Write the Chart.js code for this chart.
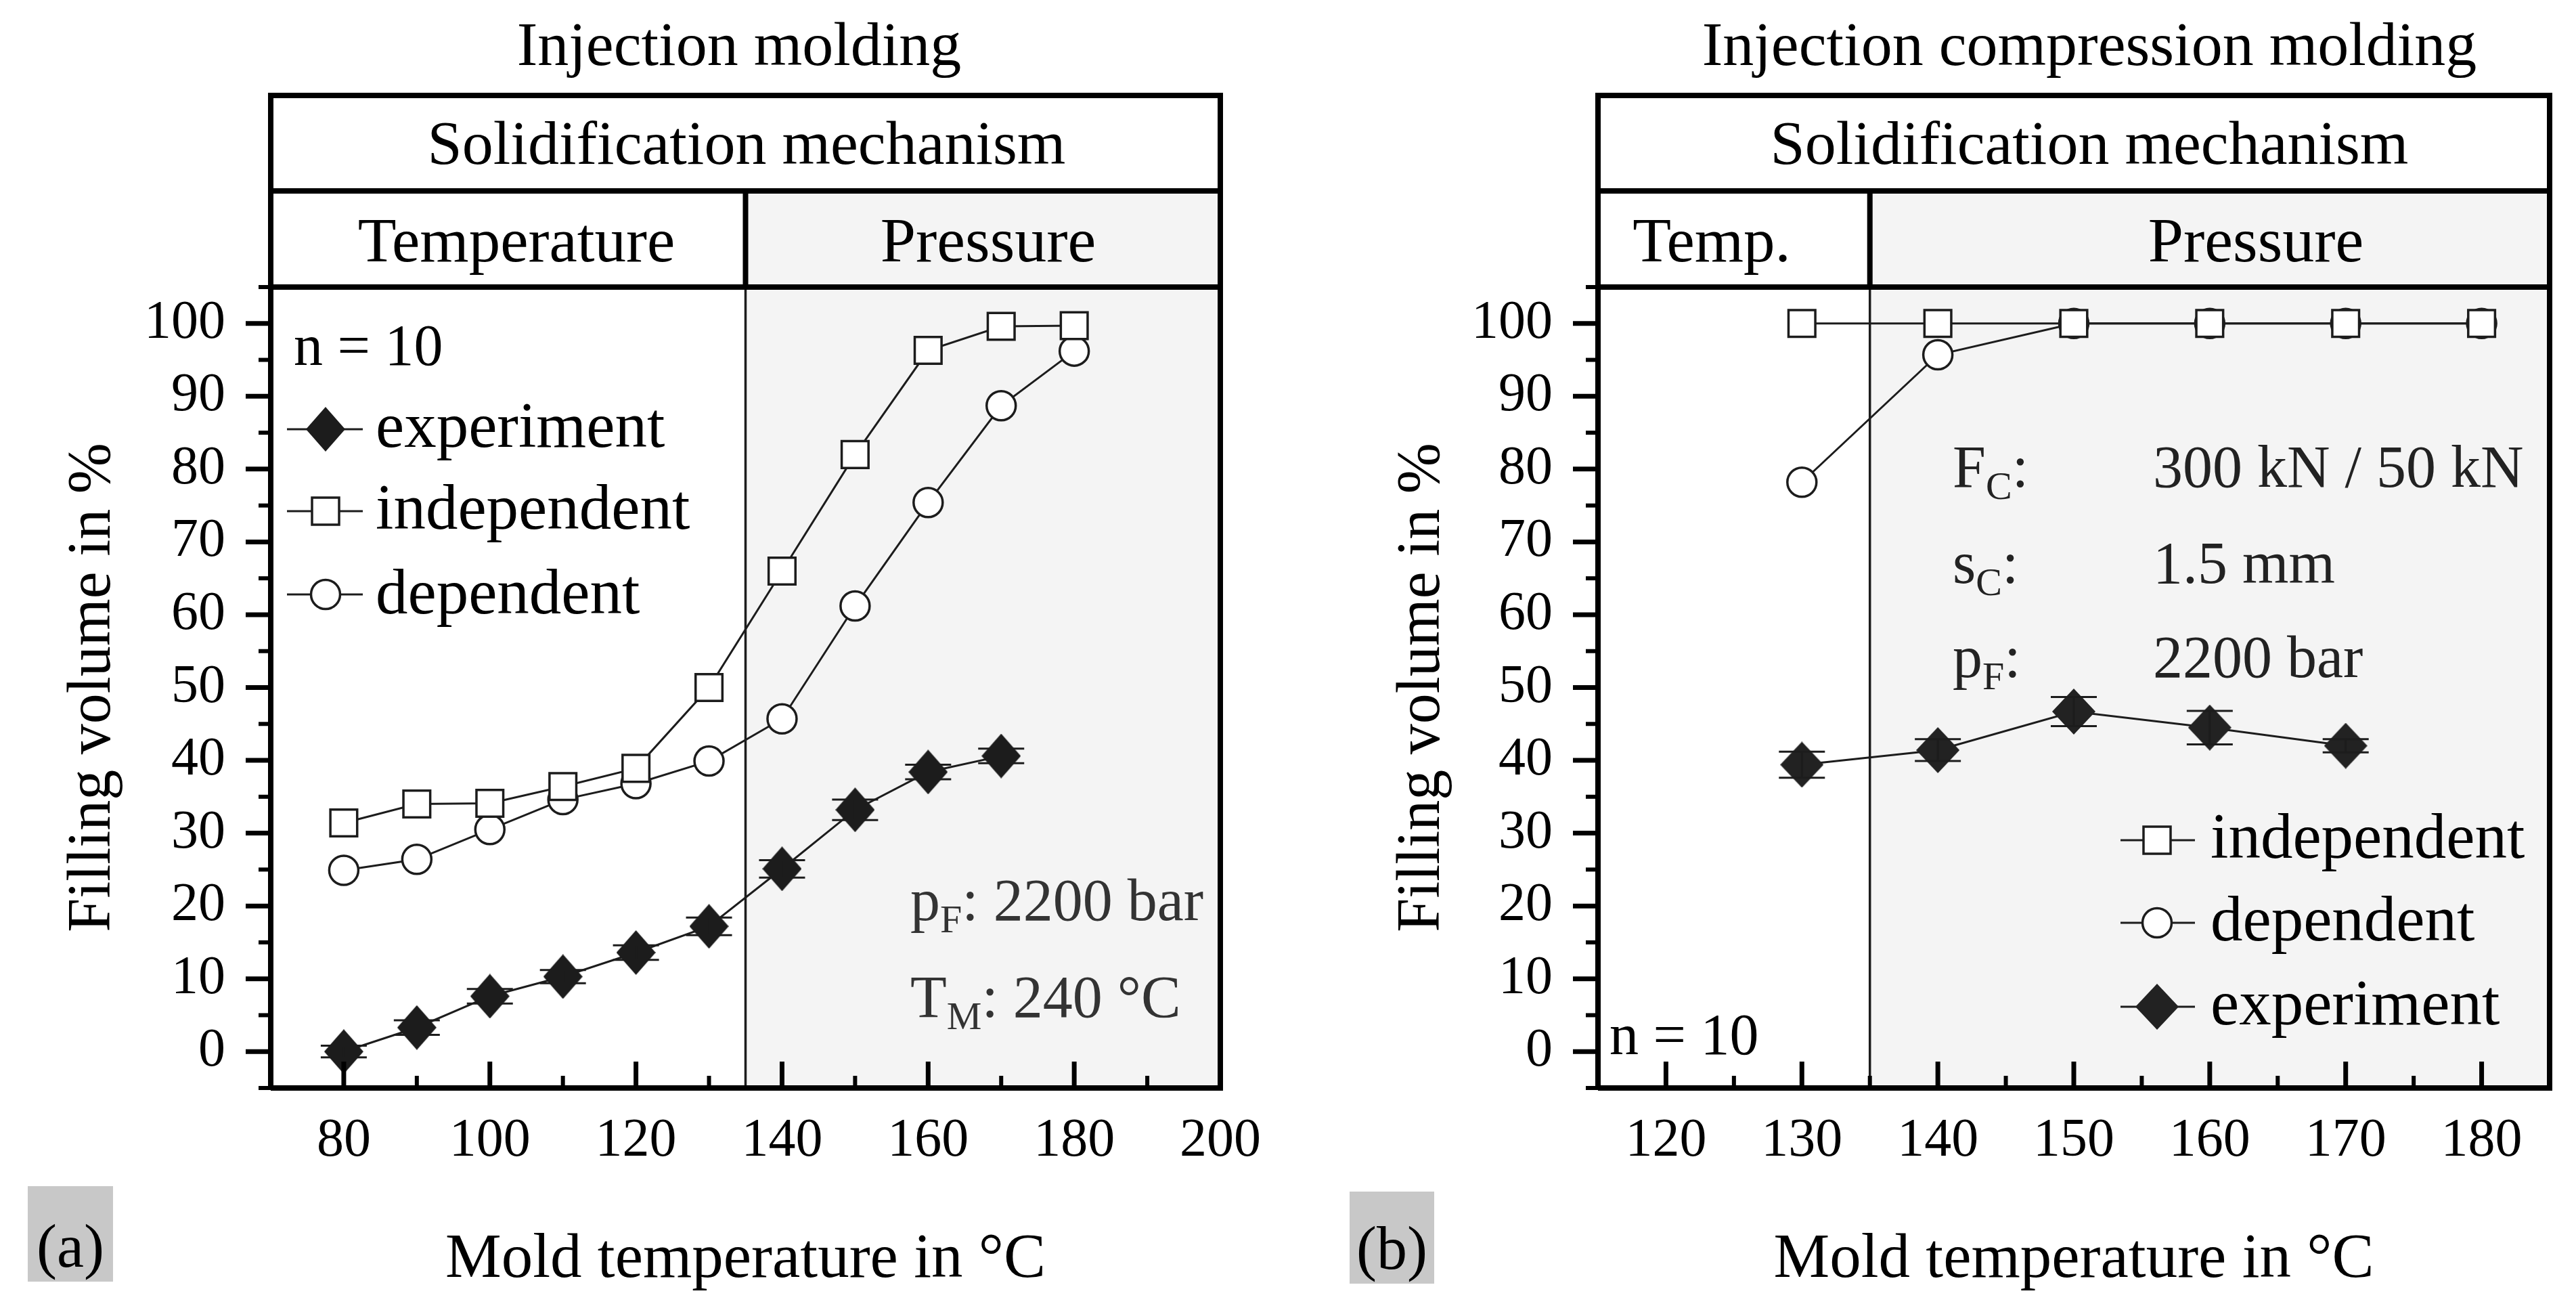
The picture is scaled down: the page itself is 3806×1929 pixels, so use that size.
<!DOCTYPE html>
<html>
<head>
<meta charset="utf-8">
<script src="https://cdn.jsdelivr.net/npm/chart.js@4.4.1/dist/chart.umd.min.js"></script>
<style>
html, body { margin: 0; padding: 0; background: #fff; overflow: hidden; }
#wrap { position: relative; width: 3806px; height: 1929px; }
canvas { position: absolute; top: 0; }
#chartA { left: 0; }
#chartB { left: 1903px; }
</style>
</head>
<body>
<div id="wrap">
	<canvas id="chartA" width="1903" height="1929"></canvas>
	<canvas id="chartB" width="1903" height="1929"></canvas>
</div>
<script>
// (a) injection molding
const tempsA = [80, 90, 100, 110, 120, 130, 140, 150, 160, 170, 180];
const experimentA = [0, 3.3, 7.6, 10.3, 13.6, 17.2, 25.1, 33.2, 38.4, 40.6];
const experimentErrA = [0.8, 1.0, 1.0, 0.9, 1.0, 1.2, 1.2, 1.4, 1.0, 1.0];
const independentA = [31.4, 34.0, 34.1, 36.4, 38.9, 50.0, 66.0, 82.0, 96.3, 99.6, 99.7];
const dependentA = [24.9, 26.4, 30.5, 34.6, 36.8, 39.9, 45.7, 61.2, 75.4, 88.7, 96.2];
const xTicksA = [80, 100, 120, 140, 160, 180, 200];
const xMinorA = [90, 110, 130, 150, 170, 190];

// (b) injection compression molding
const tempsB = [130, 140, 150, 160, 170, 180];
const experimentB = [39.4, 41.4, 46.7, 44.5, 42.0];
const experimentErrB = [1.8, 1.5, 2.0, 2.3, 0.9];
const independentB = [100, 100, 100, 100, 100, 100];
const dependentB = [78.2, 95.7, 100, 100, 100, 100];
const xTicksB = [120, 130, 140, 150, 160, 170, 180];
const xMinorB = [125, 135, 145, 155, 165, 175];

const yTicks = [0, 10, 20, 30, 40, 50, 60, 70, 80, 90, 100];
const yMinor = [-5, 5, 15, 25, 35, 45, 55, 65, 75, 85, 95, 105];
const switchTemp = 135; // temperature -> pressure solidification

const FONT = '"Liberation Serif", "Times New Roman", serif';
const INK = "#1c1c1c";
const TABLE_TOP = 141;
const ROW_Y = 282;

function pairs(xs, ys) {
	return ys.map((y, i) => ({ x: xs[i], y: y }));
}

function diamondImg(w, h, fill) {
	const c = document.createElement("canvas");
	c.width = w;
	c.height = h;
	const g = c.getContext("2d");
	g.fillStyle = fill;
	g.beginPath();
	g.moveTo(w / 2, 0);
	g.lineTo(w, h / 2);
	g.lineTo(w / 2, h);
	g.lineTo(0, h / 2);
	g.closePath();
	g.fill();
	return c;
}
const diamondA = diamondImg(58, 66, INK);
const diamondB = diamondImg(64, 68, "#222");

function line(ctx, x1, y1, x2, y2, w) {
	ctx.lineWidth = w;
	ctx.beginPath();
	ctx.moveTo(x1, y1);
	ctx.lineTo(x2, y2);
	ctx.stroke();
}

function text(ctx, str, x, y, size, align, color) {
	ctx.font = size + "px " + FONT;
	ctx.textAlign = align || "left";
	ctx.textBaseline = "alphabetic";
	ctx.fillStyle = color || "#000";
	ctx.fillText(str, x, y);
	return ctx.measureText(str).width;
}

// base letter with subscript, then the rest
function subText(ctx, x, y, size, base, sub, rest, color) {
	let cx = x;
	cx += text(ctx, base, cx, y, size, "left", color);
	cx += text(ctx, sub, cx, y + size * 0.2, size * 0.66, "left", color);
	text(ctx, rest, cx, y, size, "left", color);
}

function symbol(ctx, kind, x, y, diamond) {
	ctx.strokeStyle = INK;
	ctx.fillStyle = "#fff";
	ctx.lineWidth = 3.5;
	if (kind === "rect") {
		ctx.fillRect(x - 20, y - 20, 40, 40);
		ctx.strokeRect(x - 20, y - 20, 40, 40);
	} else if (kind === "circle") {
		ctx.beginPath();
		ctx.arc(x, y, 21.5, 0, Math.PI * 2);
		ctx.fill();
		ctx.stroke();
	} else {
		ctx.drawImage(diamond, x - diamond.width / 2, y - diamond.height / 2);
	}
}

function panelPlugin(p) {
	return {
		id: "panel" + p.name,
		beforeDraw(chart) {
			const { ctx, chartArea: a } = chart;
			const sx = chart.scales.x.getPixelForValue(switchTemp);
			ctx.save();
			ctx.fillStyle = "#f4f4f4";
			ctx.fillRect(sx, ROW_Y, a.right - sx, a.bottom - ROW_Y);
			ctx.restore();
		},
		beforeDatasetsDraw(chart) {
			const { ctx, chartArea: a } = chart;
			const sx = chart.scales.x.getPixelForValue(switchTemp);
			ctx.save();
			ctx.strokeStyle = INK;
			line(ctx, sx, a.top, sx, a.bottom, 3.5);
			ctx.restore();
		},
		afterDatasetsDraw(chart) {
			const { ctx } = chart;
			const ys = chart.scales.y;
			const meta = chart.getDatasetMeta(p.expIndex);
			ctx.save();
			ctx.strokeStyle = INK;
			meta.data.forEach((pt, i) => {
				const lo = ys.getPixelForValue(p.exp[i] - p.err[i]);
				const hi = ys.getPixelForValue(p.exp[i] + p.err[i]);
				line(ctx, pt.x, lo, pt.x, hi, 3);
				line(ctx, pt.x - 34, lo, pt.x + 34, lo, 3);
				line(ctx, pt.x - 34, hi, pt.x + 34, hi, 3);
			});
			ctx.restore();
		},
		afterDraw(chart) {
			const { ctx, chartArea: a } = chart;
			const xs = chart.scales.x;
			const ys = chart.scales.y;
			const sx = xs.getPixelForValue(switchTemp);
			const LW = 8;
			ctx.save();
			ctx.strokeStyle = "#000";

			// header table and plot frame
			line(ctx, a.left - LW / 2, TABLE_TOP, a.right + LW / 2, TABLE_TOP, LW);
			line(ctx, a.left, ROW_Y, a.right, ROW_Y, LW);
			line(ctx, a.left, a.top, a.right, a.top, LW);
			line(ctx, a.left, TABLE_TOP, a.left, a.bottom, LW);
			line(ctx, a.right, TABLE_TOP, a.right, a.bottom + LW / 2, LW);
			line(ctx, a.left, a.bottom, a.right + LW / 2, a.bottom, LW);
			line(ctx, sx, ROW_Y, sx, a.top, LW);

			// y ticks point outward, x ticks point inward
			yTicks.forEach(v => {
				const py = ys.getPixelForValue(v);
				line(ctx, a.left - 37, py, a.left, py, 7);
			});
			yMinor.forEach(v => {
				const py = ys.getPixelForValue(v);
				line(ctx, a.left - 18, py, a.left, py, 6);
			});
			p.xTicks.forEach(v => {
				const px = xs.getPixelForValue(v);
				line(ctx, px, a.bottom, px, a.bottom - 39, 7);
			});
			p.xMinor.forEach(v => {
				const px = xs.getPixelForValue(v);
				line(ctx, px, a.bottom, px, a.bottom - 18, 6);
			});

			// header texts
			text(ctx, p.title, p.titleX, 96, 92, "center");
			text(ctx, "Solidification mechanism", p.mechX, 242, 92, "center");
			text(ctx, p.leftCell, p.leftCellX, 386, 93, "center");
			text(ctx, "Pressure", p.rightCellX, 386, 94, "center");

			// legend
			text(ctx, "n = 10", p.nPos[0], p.nPos[1], 86);
			p.legend.forEach(it => {
				ctx.strokeStyle = INK;
				line(ctx, p.stub[0], it.sy, p.stub[1], it.sy, 3);
				symbol(ctx, it.kind, p.symX, it.sy, p.diamond);
				text(ctx, it.label, p.textX, it.base, 95);
			});

			// process parameters
			p.notes.forEach(n => {
				subText(ctx, n.x, n.y, 88, n.base, n.sub, n.rest, n.color);
				if (n.value) text(ctx, n.value, n.vx, n.y, 88, "left", n.color);
			});

			// panel letter
			ctx.fillStyle = "#c8c8c8";
			ctx.fillRect(p.letterBox[0], p.letterBox[1], p.letterBox[2], p.letterBox[3]);
			text(ctx, p.letter, p.letterBox[0] + p.letterBox[2] / 2, p.letterBox[1] + p.letterBox[3] - 22, 90, "center");
			ctx.restore();
		}
	};
}

function datasets(temps, exp, ind, dep, diamond) {
	const common = {
		borderColor: INK,
		borderWidth: 3,
		pointBorderColor: INK,
		pointBackgroundColor: "#fff",
		pointBorderWidth: 3.5,
		tension: 0,
		fill: false
	};
	return [
		Object.assign({}, common, {
			label: "independent",
			data: pairs(temps, ind),
			pointStyle: "rect",
			pointRadius: 28
		}),
		Object.assign({}, common, {
			label: "dependent",
			data: pairs(temps, dep),
			pointStyle: "circle",
			pointRadius: 21.5
		}),
		Object.assign({}, common, {
			label: "experiment",
			data: pairs(temps, exp),
			pointStyle: diamond,
			pointRadius: 30
		})
	];
}

function makeChart(elem, cfg) {
	return new Chart(elem, {
		type: "line",
		data: { datasets: datasets(cfg.temps, cfg.exp, cfg.ind, cfg.dep, cfg.panel.diamond) },
		options: {
			responsive: false,
			animation: false,
			devicePixelRatio: 1,
			layout: { padding: { left: 0, top: 424, right: cfg.padRight, bottom: 0 } },
			plugins: { legend: { display: false }, tooltip: { enabled: false } },
			scales: {
				x: {
					type: "linear",
					min: cfg.xMin,
					max: cfg.xMax,
					afterBuildTicks: s => { s.ticks = cfg.xTicks.map(v => ({ value: v })); },
					afterFit: s => { s.height = 322; },
					grid: { display: false, drawTicks: false },
					border: { display: false },
					ticks: {
						color: "#000",
						font: { family: FONT, size: 80 },
						padding: 31,
						maxRotation: 0,
						autoSkip: false
					},
					title: {
						display: true,
						text: "Mold temperature in °C",
						color: "#000",
						font: { family: FONT, size: 93 },
						padding: { top: 0, bottom: 12 }
					}
				},
				y: {
					type: "linear",
					min: -5,
					max: 105,
					afterBuildTicks: s => { s.ticks = yTicks.map(v => ({ value: v })); },
					afterFit: s => { s.width = cfg.yWidth; },
					grid: { display: false, drawTicks: false },
					border: { display: false },
					ticks: {
						color: "#000",
						font: { family: FONT, size: 80 },
						padding: 67
					},
					title: {
						display: true,
						text: "Filling volume in %",
						color: "#000",
						font: { family: FONT, size: 90 },
						padding: { top: cfg.yTitlePad, bottom: 0 }
					}
				}
			}
		},
		plugins: [panelPlugin(cfg.panel)]
	});
}

const chartA = makeChart(document.getElementById("chartA"), {
	temps: tempsA, exp: experimentA, ind: independentA, dep: dependentA,
	xMin: 70, xMax: 200, xTicks: xTicksA,
	padRight: 100, yWidth: 400, yTitlePad: 84,
	panel: {
		name: "A", expIndex: 2, exp: experimentA, err: experimentErrA, diamond: diamondA,
		xTicks: xTicksA, xMinor: xMinorA,
		title: "Injection molding", titleX: 1092, mechX: 1103,
		leftCell: "Temperature", leftCellX: 763, rightCellX: 1460,
		nPos: [434, 539],
		symX: 481, stub: [424, 536], textX: 555,
		legend: [
			{ kind: "diamond", label: "experiment", sy: 634, base: 660 },
			{ kind: "rect", label: "independent", sy: 755, base: 781 },
			{ kind: "circle", label: "dependent", sy: 878, base: 906 }
		],
		notes: [
			{ x: 1345, y: 1359, base: "p", sub: "F", rest: ": 2200 bar", color: "#333" },
			{ x: 1345, y: 1502, base: "T", sub: "M", rest: ": 240 °C", color: "#333" }
		],
		letter: "(a)", letterBox: [41, 1752, 126, 141]
	}
});

const chartB = makeChart(document.getElementById("chartB"), {
	temps: tempsB, exp: experimentB, ind: independentB, dep: dependentB,
	xMin: 115, xMax: 185, xTicks: xTicksB,
	padRight: 39, yWidth: 458, yTitlePad: 145,
	panel: {
		name: "B", expIndex: 2, exp: experimentB, err: experimentErrB, diamond: diamondB,
		xTicks: xTicksB, xMinor: xMinorB,
		title: "Injection compression molding", titleX: 1184, mechX: 1184,
		leftCell: "Temp.", leftCellX: 626, rightCellX: 1430,
		nPos: [475, 1557],
		symX: 1284, stub: [1230, 1340], textX: 1363,
		legend: [
			{ kind: "rect", label: "independent", sy: 1241, base: 1267 },
			{ kind: "circle", label: "dependent", sy: 1363, base: 1389 },
			{ kind: "diamond", label: "experiment", sy: 1487, base: 1513 }
		],
		notes: [
			{ x: 982, y: 719, base: "F", sub: "C", rest: ":", value: "300 kN / 50 kN", vx: 1278, color: "#222" },
			{ x: 982, y: 861, base: "s", sub: "C", rest: ":", value: "1.5 mm", vx: 1278, color: "#222" },
			{ x: 982, y: 1000, base: "p", sub: "F", rest: ":", value: "2200 bar", vx: 1278, color: "#222" }
		],
		letter: "(b)", letterBox: [91, 1760, 125, 136]
	}
});
</script>
</body>
</html>
